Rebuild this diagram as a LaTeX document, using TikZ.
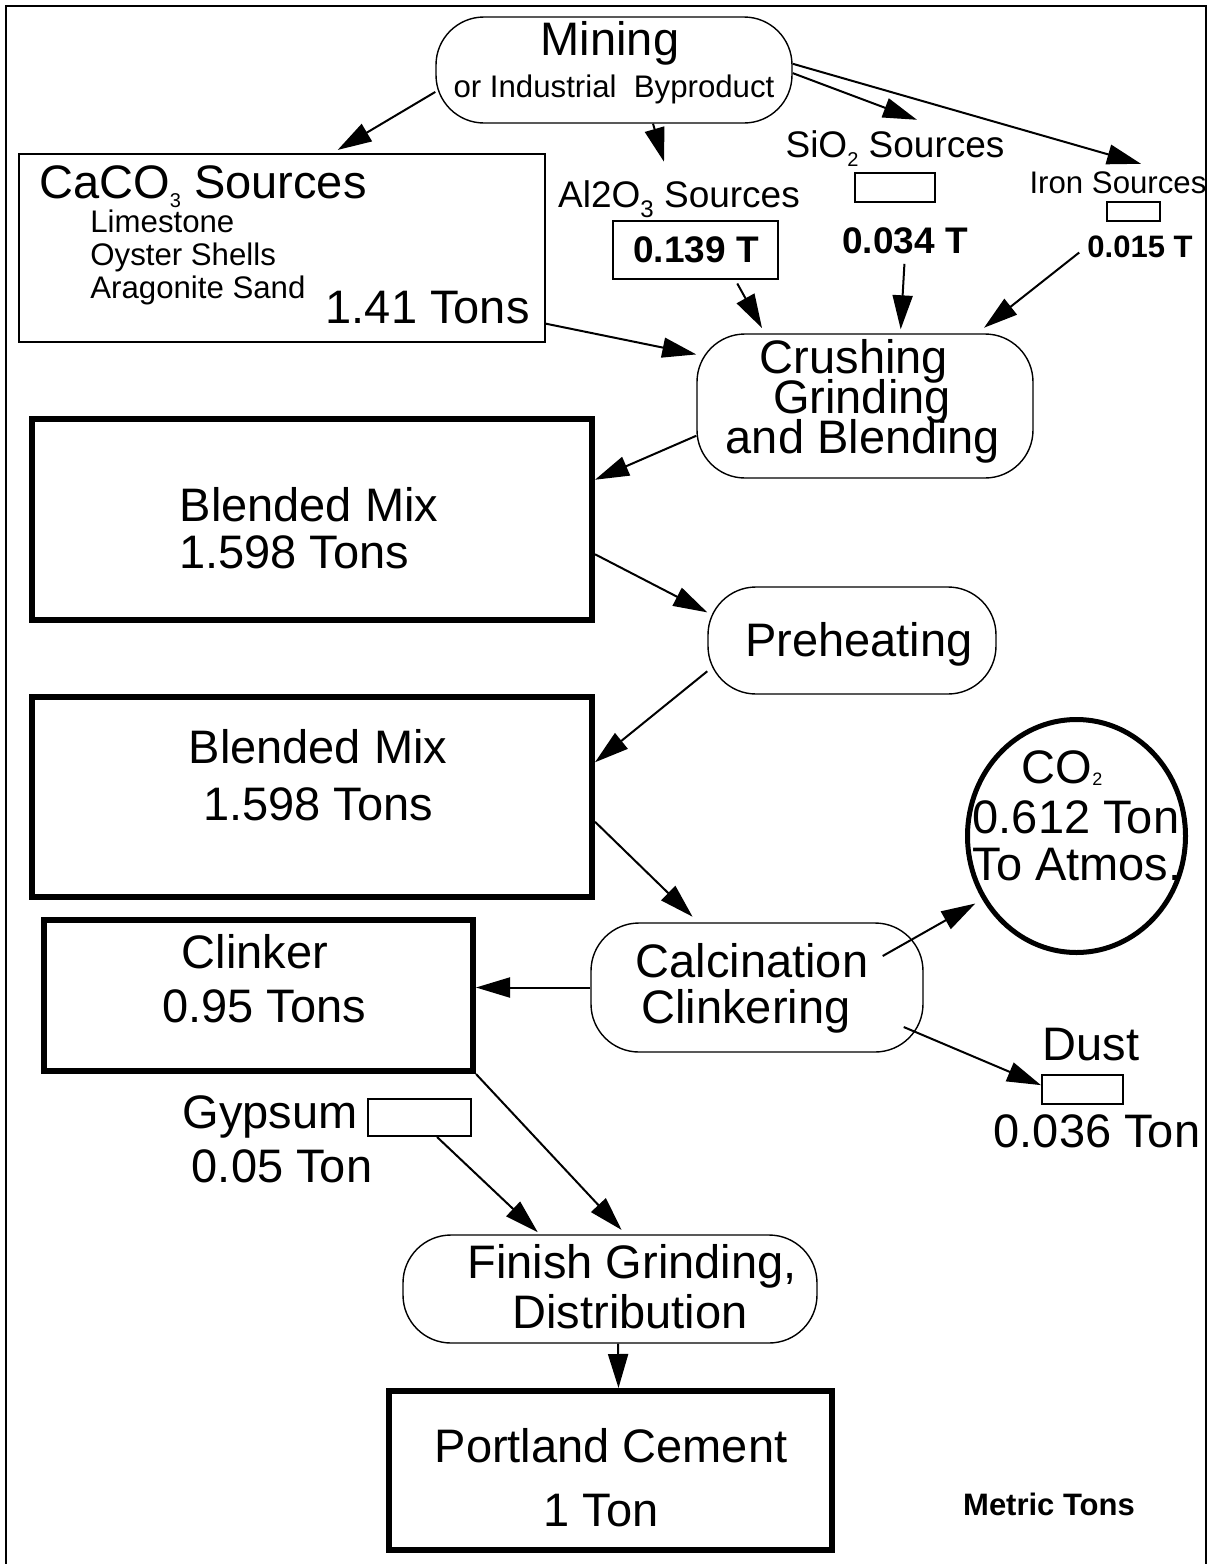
\documentclass[tikz,border=0pt]{standalone}
\usepackage{fontspec}
\setmainfont{Liberation Sans}
\usetikzlibrary{
    arrows.meta,
    shapes.geometric,
    calc
}
% lowered chemical index: size, drop, text
\newcommand{\lowsub}[3]{\raisebox{-#2}{\fontsize{#1}{#1}\selectfont #3}}
\tikzset{
    box/.style={
        rectangle,
        draw=black,
        line width=1pt
    },
    heavybox/.style={
        rectangle,
        draw=black,
        line width=3pt
    },
    roundbox/.style={
        rectangle,
        rounded corners=24pt,
        draw=black,
        line width=0.7pt
    },
    tinybox/.style={
        rectangle,
        draw=black,
        line width=1pt,
        inner sep=0pt
    },
    bigtext/.style={
        font=\fontsize{23.5}{24}\selectfont,
        inner sep=0pt,
        anchor=base
    },
    midtext/.style={
        font=\fontsize{18.5}{19}\selectfont,
        inner sep=0pt,
        anchor=base
    },
    smalltext/.style={
        font=\fontsize{15.6}{16}\selectfont,
        inner sep=0pt,
        anchor=base
    },
    boldtext/.style={
        font=\bfseries\fontsize{18.5}{19}\selectfont,
        inner sep=0pt,
        anchor=base
    },
    smallbold/.style={
        font=\bfseries\fontsize{15.5}{16}\selectfont,
        inner sep=0pt,
        anchor=base
    },
    arrow/.style={
        -{Triangle[length=17pt,width=10pt]},
        line width=1pt
    }
}

\begin{document}
\begin{tikzpicture}[x=0.5pt, y=-0.5pt]
\useasboundingbox (0,0) rectangle (1212,1564);
\draw[line width=1.2pt] (6,1564) -- (6,6) -- (1206,6) -- (1206,1564);

% raw materials
\node[roundbox, minimum width=178pt, minimum height=53pt] (mining) at (614,70) {};
\node[bigtext] (miningtxt) at (610,55) {Mining};
\node[smalltext] (bytxt) at (614,97) {or Industrial~~Byproduct};

\node[box, minimum width=263pt, minimum height=94pt] (caco3) at (282,248) {};
\node[bigtext, anchor=base west] (caco3txt) at (39,198) {CaCO\lowsub{10}{4.5pt}{3} Sources};
\node[smalltext, anchor=base west] (lime) at (90,232) {Limestone};
\node[smalltext, anchor=base west] (oyster) at (90,265) {Oyster Shells};
\node[smalltext, anchor=base west] (sand) at (90,298) {Aragonite Sand};
\node[bigtext, anchor=base east] (caco3val) at (530,323) {1.41 Tons};

\node[midtext] (al2lbl) at (679,207) {Al2O\lowsub{12}{5pt}{3} Sources};
\node[box, minimum width=82.5pt, minimum height=29pt] (al2box) at (695.5,250) {};
\node[boldtext] (al2val) at (696,262) {0.139 T};

\node[midtext] (silbl) at (895,157) {SiO\lowsub{10}{4.5pt}{2} Sources};
\node[tinybox, minimum width=40pt, minimum height=14.5pt] (sibox) at (895,187.5) {};
\node[boldtext] (sival) at (905,253) {0.034 T};

\node[smalltext] (felbl) at (1118,193) {Iron Sources};
\node[tinybox, minimum width=26.5pt, minimum height=9.5pt] (febox) at (1133.5,211.5) {};
\node[smallbold] (feval) at (1140,257) {0.015 T};

% process chain
\node[roundbox, minimum width=168pt, minimum height=72pt] (crush) at (865,406) {};
\node[bigtext] (crushtxt) at (854,373) {Crushing};
\node[bigtext] (grindtxt) at (862,413) {Grinding};
\node[bigtext] (blendtxt) at (863,453) {and Blending};

\node[heavybox, minimum width=280pt, minimum height=100.5pt] (blend1) at (312,519.5) {};
\node[bigtext] (blend1txt) at (309,521) {Blended Mix};
\node[bigtext] (blend1val) at (294,568) {1.598 Tons};

\node[roundbox, minimum width=144pt, minimum height=53.5pt] (preheat) at (852,640.5) {};
\node[bigtext] (preheattxt) at (859,656) {Preheating};

\node[heavybox, minimum width=280pt, minimum height=100pt] (blend2) at (312,797) {};
\node[bigtext] (blend2txt) at (318,763) {Blended Mix};
\node[bigtext] (blend2val) at (318,820) {1.598 Tons};

\node[ellipse, draw=black, line width=2.5pt, inner sep=0pt,
      minimum width=109pt, minimum height=116.5pt] (co2) at (1076.5,836) {};
\node[bigtext] (co2txt) at (1062,783) {CO\lowsub{9}{1pt}{2}};
\node[bigtext] (co2val) at (1076,833) {0.612 Ton};
\node[bigtext] (co2atm) at (1077,880) {To Atmos.};

\node[roundbox, minimum width=166pt, minimum height=64.5pt] (calc) at (757,987.5) {};
\node[bigtext] (calctxt) at (752,977) {Calcination};
\node[bigtext] (clinktxt) at (746,1023) {Clinkering};

\node[heavybox, minimum width=214.5pt, minimum height=75.5pt] (clinker) at (258.5,995.5) {};
\node[bigtext] (clinkertxt) at (255,968) {Clinker};
\node[bigtext] (clinkerval) at (264,1022) {0.95 Tons};

\node[bigtext] (dusttxt) at (1091,1060) {Dust};
\node[tinybox, minimum width=40.5pt, minimum height=14.5pt] (dustbox) at (1082.5,1089.5) {};
\node[bigtext] (dustval) at (1097,1147) {0.036 Ton};

\node[bigtext, anchor=base east] (gyptxt) at (358,1128) {Gypsum};
\node[tinybox, minimum width=51.5pt, minimum height=18.5pt] (gypbox) at (419.5,1117.5) {};
\node[bigtext] (gypval) at (282,1182) {0.05 Ton};

\node[roundbox, minimum width=207pt, minimum height=54pt] (finish) at (610,1289) {};
\node[bigtext] (finishtxt) at (632,1278) {Finish Grinding,};
\node[bigtext] (disttxt) at (630,1328) {Distribution};

\node[heavybox, minimum width=221.5pt, minimum height=79.5pt] (portland) at (610.5,1470.5) {};
\node[bigtext] (portlandtxt) at (611,1462) {Portland Cement};
\node[bigtext] (portlandval) at (601,1526) {1 Ton};

\node[smallbold] (metric) at (1049,1515) {Metric Tons};

% flows
\draw[arrow, shorten >=3pt] (mining.187) -- (caco3.62);
\draw[arrow] (mining.-54) -- ([xshift=-7.5pt,yshift=9pt]al2lbl.north);
\draw[arrow] (mining.-1) -- ([xshift=11pt,yshift=5pt]silbl.north);
\draw[arrow] (mining.2) -- ([xshift=11.5pt,yshift=3.5pt]felbl.north);
\draw[arrow] (caco3.-16) -- (crush.163);
\draw[arrow, shorten <=2pt, shorten >=3pt] (al2box.-37) -- (crush.144);
\draw[arrow, shorten <=5pt, shorten >=2pt] (sival.south) -- (crush.64);
\draw[arrow, shorten <=5pt, shorten >=4.5pt] (feval.west) -- (crush.33);
\draw[arrow] (crush.190) -- (blend1.8);
\draw[arrow] (blend1.-7) -- (preheat.169);
\draw[arrow] (preheat.192) -- (blend2.7);
\draw[arrow, shorten >=4pt] (blend2.-5) -- (calc.132);
\draw[arrow, shorten >=4pt] ([xshift=-20.5pt,yshift=15.75pt]calc.east) -- (co2.214);
\draw[arrow] ([xshift=-10pt,yshift=-19.75pt]calc.east) -- (dustbox.174);
\draw[arrow] (calc.west) -- (calc.west -| clinker.east);
\draw[arrow, shorten >=1.5pt] (gypbox.-48) -- (finish.142);
\draw[arrow, shorten >=3pt] (clinker.south east) -- (finish.74);
\draw[arrow] ([xshift=4pt]finish.south) -- ([xshift=4pt]portland.north);
\end{tikzpicture}
\end{document}
